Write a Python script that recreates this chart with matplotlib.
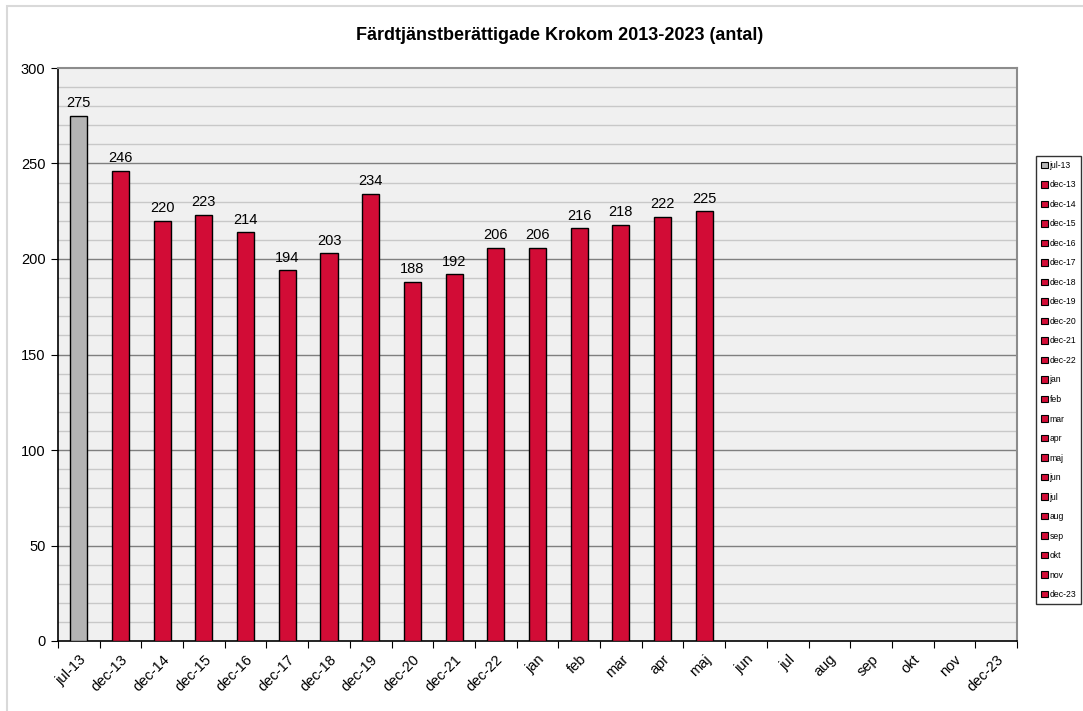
import numpy as np
import matplotlib.pyplot as plt
from matplotlib.patches import Patch, Rectangle

plt.rcParams['font.family'] = ['Liberation Sans', 'DejaVu Sans']

# Data
categories = ['jul-13', 'dec-13', 'dec-14', 'dec-15', 'dec-16', 'dec-17', 'dec-18',
              'dec-19', 'dec-20', 'dec-21', 'dec-22', 'jan', 'feb', 'mar', 'apr',
              'maj', 'jun', 'jul', 'aug', 'sep', 'okt', 'nov', 'dec-23']
values = [275, 246, 220, 223, 214, 194, 203, 234, 188, 192, 206,
          206, 216, 218, 222, 225, None, None, None, None, None, None, None]

gray = '#B4B4B4'
red = '#D20C36'
colors = [gray] + [red] * (len(categories) - 1)

fig = plt.figure(figsize=(10.83, 7.11), dpi=100)
# outer chart frame
fig.patches.append(Rectangle((7 / 1083, -0.1), 1.2, (711 - 6) / 711 + 0.1,
                             transform=fig.transFigure, fill=False,
                             edgecolor='#D9D9D9', linewidth=1.5))

ax = fig.add_axes([58 / 1083, 1 - 641 / 711, (1017 - 58) / 1083, (641 - 68) / 711])
ax.set_facecolor('#F0F0F0')

x = np.arange(len(categories))
for i, v in enumerate(values):
    if v is None:
        continue
    ax.bar(x[i], v, width=0.41, color=colors[i], edgecolor='black', linewidth=1, zorder=3)
    ax.text(x[i], v + 3, str(v), ha='center', va='bottom', fontsize=10.5, zorder=4)

ax.set_xlim(-0.5, len(categories) - 0.5)
ax.set_ylim(0, 300)

# gridlines
for yv in range(10, 300, 10):
    if yv % 50 == 0:
        ax.axhline(yv, color='#7F7F7F', linewidth=1, zorder=1)
    else:
        ax.axhline(yv, color='#C8C8C8', linewidth=1, zorder=1)

ax.set_yticks(range(0, 301, 50))
ax.tick_params(axis='y', labelsize=10.5, length=5, direction='out', pad=4)
ax.set_xticks(np.arange(-0.5, len(categories), 1))
ax.set_xticklabels([])
ax.set_xticks(x, minor=True)
ax.set_xticklabels(categories, minor=True, rotation=45, ha='right',
                   rotation_mode='anchor', fontsize=10.5)
ax.tick_params(axis='x', which='major', length=5, direction='out')
ax.tick_params(axis='x', which='minor', length=0, pad=8)

for s in ['left', 'bottom']:
    ax.spines[s].set_color('black')
    ax.spines[s].set_linewidth(1.2)
for s in ['right', 'top']:
    ax.spines[s].set_color('#8C8C8C')
    ax.spines[s].set_linewidth(1.5)

fig.text(560 / 1083, 1 - 35 / 711, 'Färdtjänstberättigade Krokom 2013-2023 (antal)',
         ha='center', va='center', fontsize=13, fontweight='bold')

handles = [Patch(facecolor=c, edgecolor='black', linewidth=0.8) for c in colors]
leg = fig.legend(handles, categories, loc='center',
                 bbox_to_anchor=(1058.5 / 1083, 1 - 380 / 711),
                 fontsize=6.2, frameon=True, fancybox=False,
                 handlelength=0.8, handleheight=0.8, handletextpad=0.2,
                 labelspacing=1.22, borderpad=0.55, borderaxespad=0)
leg.get_frame().set_edgecolor('black')
leg.get_frame().set_linewidth(1)

fig.savefig('out.png', dpi=100)
